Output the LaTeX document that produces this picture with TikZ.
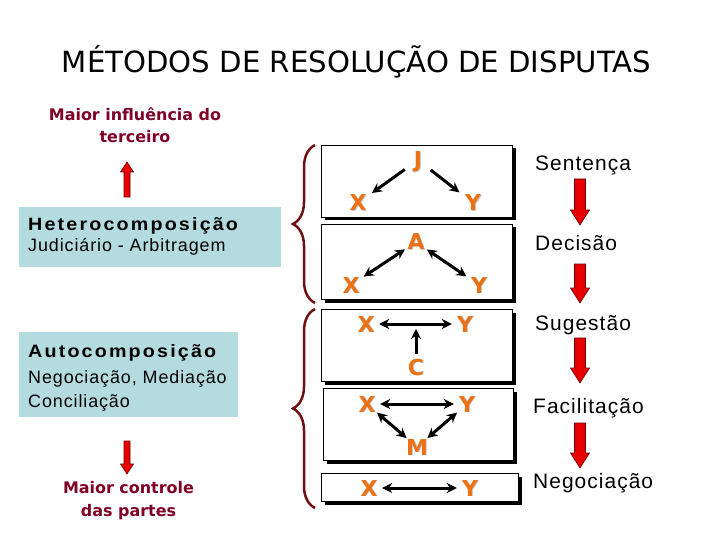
\documentclass[tikz,border=0pt]{standalone}
\usepackage{fontspec}
\setmainfont{Liberation Sans}[LetterSpace=5]
\newfontfamily\largo{Liberation Sans}[LetterSpace=12, FakeStretch=1.1]
\newfontfamily\dejavu{DejaVu Sans}
\usetikzlibrary{arrows.meta,positioning,decorations.pathreplacing,shadows}

\definecolor{vinho}{RGB}{128,0,38}
\definecolor{laranja}{RGB}{236,112,20}
\definecolor{azulclaro}{RGB}{180,219,224}
\definecolor{vermelho}{RGB}{232,0,0}
\definecolor{corchave}{RGB}{112,16,16}

% seta vermelha em bloco: x, y da base, y da ponta, meia haste, meia cabeca, comprimento da cabeca
\newcommand{\setavermelha}[6]{%
  \filldraw[fill=vermelho, draw=vermelho!45!black, line width=0.6bp]
    ({#1-#4},#2) -- ({#1-#4},{#3-#6}) -- ({#1-#5},{#3-#6}) -- (#1,#3)
    -- ({#1+#5},{#3-#6}) -- ({#1+#4},{#3-#6}) -- ({#1+#4},#2) -- cycle;}
\newcommand{\letrasombra}[1]{\makebox[0pt][l]{\kern1pt\raisebox{-1pt}{\textcolor{black!22}{#1}}}#1}

\begin{document}
\begin{tikzpicture}[x=1bp, y=-1bp, >={Stealth[length=10bp,width=10bp]},
    letra/.style={circle, inner sep=0pt, minimum size=26bp, text height=16bp, text depth=0pt,
      text=laranja, font=\dejavu\bfseries\fontsize{22}{22}\selectfont},
    seta/.style={line width=3bp},
    caixa/.style={draw=black, line width=0.8bp, fill=white,
      drop shadow={shadow xshift=3.5bp, shadow yshift=-3.5bp, fill=black, opacity=1}},
    chaveta/.style={draw=corchave, line width=2.5bp, decorate, decoration={brace, amplitude=22bp}},
    rotulo/.style={anchor=base west, inner sep=0pt, font=\fontsize{21}{24}\selectfont},
    titulocaixa/.style={anchor=base west, inner sep=0pt, font=\largo\bfseries\fontsize{18}{20}\selectfont},
    textocaixa/.style={anchor=base west, inner sep=0pt, font=\fontsize{18}{20}\selectfont},
    influencia/.style={anchor=base, inner sep=0pt, align=center, text=vinho,
      font=\dejavu\bfseries\fontsize{16}{22.5}\selectfont}]
  \useasboundingbox (0,0) rectangle (720,540);

  \node[anchor=base, inner sep=0pt, font=\dejavu\fontsize{29.3}{30}\selectfont] (titulo) at (356.5,73)
    {MÉTODOS DE RESOLUÇÃO DE DISPUTAS};

  % lado esquerdo
  \node[influencia] (terceiro) at (135,142.7) {Maior influência do\\terceiro};
  \setavermelha{127}{197}{162}{3}{6.5}{-10}
  \fill[azulclaro] (19,207) rectangle (281,267);
  \node[titulocaixa] (hetero) at (28,231) {Heterocomposição};
  \node[textocaixa] (judiciario) at (28,252) {Judiciário - Arbitragem};
  \fill[azulclaro] (19,332) rectangle (238,417);
  \node[titulocaixa] (auto) at (28,357) {Autocomposição};
  \node[textocaixa] (negociacao) at (28,383) {Negociação, Mediação};
  \node[textocaixa] (conciliacao) at (28,407) {Conciliação};
  \setavermelha{127}{441}{474}{3}{6.5}{10}
  \node[influencia] (partes) at (128.5,516) {Maior controle\\das partes};

  % chavetas
  \draw[chaveta] (315,303) -- (315,145);
  \draw[chaveta] (315,508) -- (315,309);

  % caixas do meio
  \draw[caixa] (321,145) rectangle (512,217);
  \node[letra] (j) at (418,160) {\letrasombra{J}};
  \node[letra] (x1) at (358,203) {\letrasombra{X}};
  \node[letra] (y1) at (473,203) {\letrasombra{Y}};
  \draw[seta, ->, shorten <=3bp, shorten >=4bp] (j) -- (x1);
  \draw[seta, ->, shorten <=3bp, shorten >=4bp] (j) -- (y1);

  \draw[caixa] (321,224) rectangle (512,299);
  \node[letra] (a) at (416,242) {\letrasombra{A}};
  \node[letra] (x2) at (351,285) {\letrasombra{X}};
  \node[letra] (y2) at (479,285) {\letrasombra{Y}};
  \draw[seta, <->, shorten >=2bp] (a) -- (x2);
  \draw[seta, <->, shorten >=2bp] (a) -- (y2);

  \draw[caixa] (321,309) rectangle (512,381);
  \node[letra] (x3) at (366,324) {\letrasombra{X}};
  \node[letra] (y3) at (465,324) {\letrasombra{Y}};
  \node[letra] (c) at (416,367) {\letrasombra{C}};
  \draw[seta, <->] (x3) -- (y3);
  \draw[seta, ->, shorten >=5bp] (c) -- (c |- x3);

  \draw[caixa] (323,388) rectangle (513,460);
  \node[letra] (x4) at (367,404) {\letrasombra{X}};
  \node[letra] (y4) at (467,404) {\letrasombra{Y}};
  \node[letra] (m) at (417,447) {\letrasombra{M}};
  \draw[seta, <->] (x4) -- (y4);
  \draw[seta, <->] (x4) -- (m);
  \draw[seta, <->] (y4) -- (m);

  \draw[caixa] (321,473) rectangle (518,501);
  \node[letra] (x5) at (369,488) {\letrasombra{X}};
  \node[letra] (y5) at (470,488) {\letrasombra{Y}};
  \draw[seta, <->] (x5) -- (y5);

  % lado direito
  \node[rotulo] (sentenca) at (535,170.7) {Sentença};
  \node[rotulo] (decisao) at (535,251) {Decisão};
  \node[rotulo] (sugestao) at (535,330.5) {Sugestão};
  \node[rotulo] (facilitacao) at (533,413) {Facilitação};
  \node[rotulo] (negociacao2) at (533,488) {Negociação};
  \foreach \ya/\yb in {179/225, 264/303, 338/383, 423/468}
    \setavermelha{580}{\ya}{\yb}{5.5}{9.5}{15};
\end{tikzpicture}
\end{document}
